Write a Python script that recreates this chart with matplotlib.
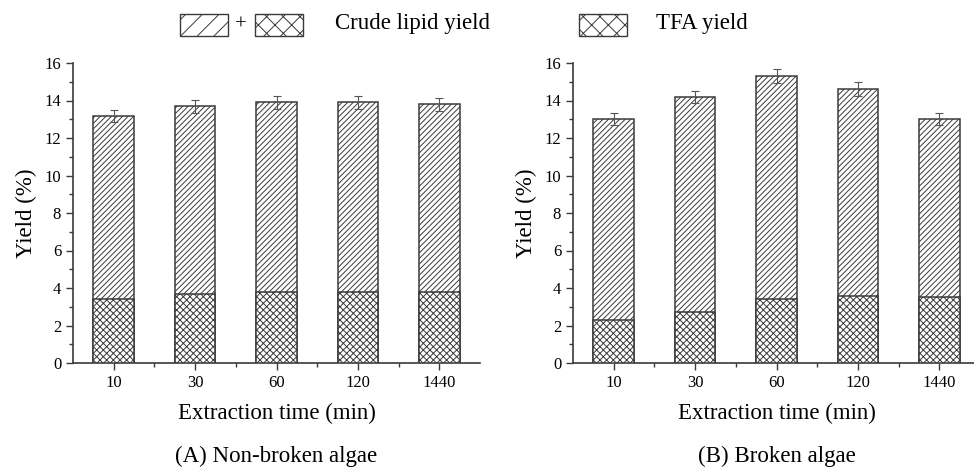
import matplotlib
matplotlib.use("Agg")
import matplotlib.pyplot as plt
from matplotlib.patches import Rectangle
import numpy as np

plt.rcParams['font.family'] = ['Liberation Serif', 'DejaVu Serif']
plt.rcParams['hatch.linewidth'] = 0.7

times = ['10', '30', '60', '120', '1440']

# (A) non-broken algae
crude_a = [13.2, 13.7, 13.9, 13.9, 13.8]
crude_a_err = [0.32, 0.35, 0.35, 0.35, 0.35]
tfa_a = [3.4, 3.7, 3.8, 3.8, 3.8]

# (B) broken algae
crude_b = [13.0, 14.2, 15.3, 14.6, 13.0]
crude_b_err = [0.33, 0.33, 0.38, 0.38, 0.33]
tfa_b = [2.3, 2.7, 3.4, 3.6, 3.5]

captions = ['(A) Non-broken algae', '(B) Broken algae']

edge = '#3a3a3a'
W, H = 974, 468

fig = plt.figure(figsize=(9.74, 4.68), dpi=100)
ax_a = fig.add_axes([73 / W, 105 / H, 407 / W, 300 / H])
ax_b = fig.add_axes([573 / W, 105 / H, 407 / W, 300 / H])


def draw_panel(ax, crude, err, tfa, caption):
    x = np.arange(len(times))
    # crude lipid bar spans full height, TFA part overlays the bottom
    ax.bar(x, crude, width=0.5, color='white', edgecolor=edge, linewidth=1.1,
           hatch='//////', zorder=2)
    ax.bar(x, tfa, width=0.5, color='white', edgecolor=edge, linewidth=1.1,
           hatch='xxxxx', zorder=3)
    ax.errorbar(x, crude, yerr=err, fmt='none', ecolor='#555555',
                elinewidth=0.8, capsize=3, capthick=0.8, zorder=4)
    ax.set_xlim(-0.5, 4.5)
    ax.set_ylim(0, 16)
    ax.set_xticks(x)
    ax.set_xticklabels(times)
    ax.set_xticks(x[:-1] + 0.5, minor=True)
    ax.set_yticks(np.arange(0, 17, 2))
    ax.set_yticks(np.arange(1, 16, 2), minor=True)
    ax.tick_params(which='major', length=5, width=1, color=edge, labelsize=12)
    ax.tick_params(which='minor', length=3, width=1, color=edge)
    for s in ['top', 'right']:
        ax.spines[s].set_visible(False)
    for s in ['left', 'bottom']:
        ax.spines[s].set_color(edge)
        ax.spines[s].set_linewidth(1.2)
    ax.set_ylabel('Yield (%)', fontsize=16.5, labelpad=5)
    ax.set_xlabel('Extraction time (min)', fontsize=16.5, labelpad=9)
    ax.text(0.5, -0.31, caption, transform=ax.transAxes, ha='center',
            va='center', fontsize=16.5)


draw_panel(ax_a, crude_a, crude_a_err, tfa_a, captions[0])
draw_panel(ax_b, crude_b, crude_b_err, tfa_b, captions[1])


# legend drawn at the figure top
def legend_box(x0, hatch):
    fig.patches.append(Rectangle((x0 / W, 1 - 36 / H), 48 / W, 22 / H,
                                 transform=fig.transFigure, facecolor='white',
                                 edgecolor=edge, linewidth=1.0, hatch=hatch))


legend_box(180, '//')
fig.text(241 / W, 1 - 25 / H, '+', ha='center', va='center', fontsize=15)
legend_box(255, 'xx')
fig.text(335 / W, 1 - 24 / H, 'Crude lipid yield', ha='left', va='center',
         fontsize=16.5)
legend_box(579, 'xx')
fig.text(656 / W, 1 - 24 / H, 'TFA yield', ha='left', va='center',
         fontsize=16.5)

fig.savefig('out.png', dpi=100)
